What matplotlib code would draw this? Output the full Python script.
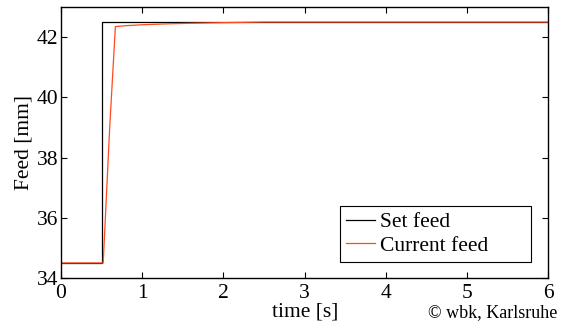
import matplotlib
matplotlib.use("Agg")
from matplotlib import pyplot as plt

# set feed (step at 0.5 s)
t_set = [0, 0.5, 0.5, 6]
feed_set = [34.5, 34.5, 42.5, 42.5]

# measured feed
t_cur = [0, 0.52, 0.6, 0.67, 0.8, 1.0, 1.3, 1.6, 2.0, 2.5, 6]
feed_cur = [34.5, 34.5, 39.0, 42.35, 42.38, 42.41, 42.44, 42.46, 42.48, 42.5, 42.5]

xticks = [0, 1, 2, 3, 4, 5, 6]
yticks = [34, 36, 38, 40, 42]
labels = ["Set feed", "Current feed"]

plt.rcParams['font.family'] = ['Liberation Serif', 'DejaVu Serif']
plt.rcParams['font.size'] = 15.5

fig = plt.figure(figsize=(5.67, 3.27), dpi=100)
ax = fig.add_axes([61/567, 1 - 278/327, 487/567, 271/327])

ax.plot(t_set, feed_set, color="black", linewidth=0.9, label=labels[0])
ax.plot(t_cur, feed_cur, color="#ff4a1c", linewidth=0.9, label=labels[1])

ax.set_xlim(0, 6)
ax.set_ylim(34, 43)
ax.set_xticks(xticks)
ax.set_yticks(yticks)
ax.tick_params(direction="in", top=True, right=True, length=4, width=0.8)
ax.tick_params(axis="x", pad=4)
ax.tick_params(axis="y", pad=2)
for s in ax.spines.values():
    s.set_linewidth(1.0)

ax.set_ylabel("Feed [mm]", labelpad=2)
fig.text(305/567, 1 - 312/327, "time [s]", ha="center", va="center")

# matlab-style legend leaves extra room at the right
handles, _ = ax.get_legend_handles_labels()
leg = ax.legend(handles, [l + "\u00a0" * 7 for l in labels],
                loc="lower right", bbox_to_anchor=(0.966, 0.06), fancybox=False,
                framealpha=1, edgecolor="black", handlelength=1.35,
                handletextpad=0.2, borderpad=0.28, labelspacing=0.15,
                borderaxespad=0)
leg.get_frame().set_linewidth(0.8)

fig.text(557/567, 1 - 313/327, "© wbk, Karlsruhe", ha="right", va="center", fontsize=13)

fig.savefig("out.png", dpi=100)
